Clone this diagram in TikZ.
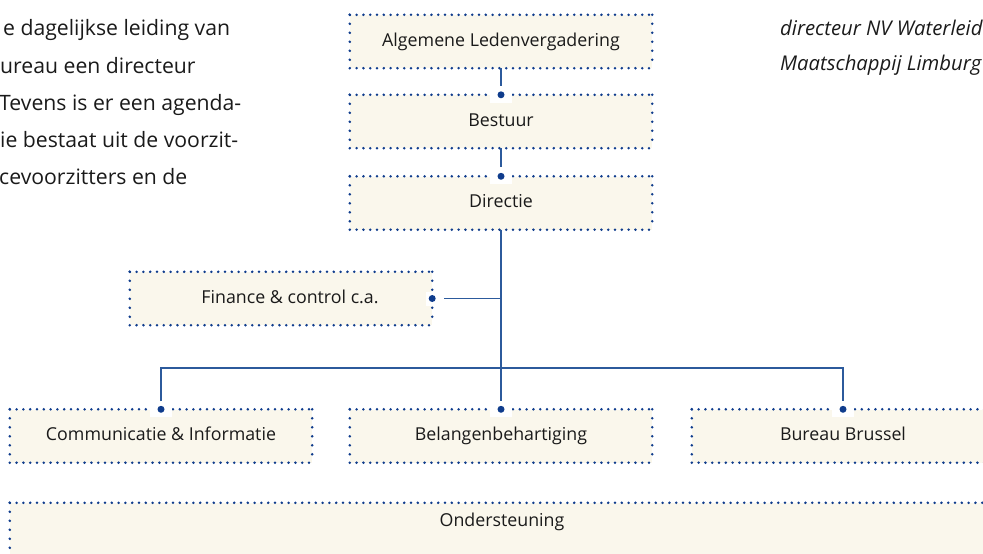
\documentclass[tikz,border=0pt]{standalone}
\usepackage{fontspec}
\setmainfont{Open Sans}
\usetikzlibrary{calc}
\definecolor{dotc}{HTML}{0F3C8C}
\definecolor{linec}{HTML}{2C5A9C}
\definecolor{boxfill}{HTML}{FAF7EC}
\definecolor{txt}{HTML}{1A1A1A}
\tikzset{
  orgbox/.style={fill=boxfill, draw=none, inner sep=0pt, minimum width=302pt, minimum height=53pt, text=txt, text height=13pt, text depth=4pt, font=\fontsize{17.8}{20}\selectfont},
  hdots/.style={draw=dotc, line width=2.8pt, line cap=round, dash pattern=on 0pt off 6.8pt},
  vdots/.style={draw=dotc, line width=2.8pt, line cap=round, dash pattern=on 0pt off 9pt},
  conn/.style={draw=linec, line width=1.5pt},
  para/.style={anchor=base west, inner sep=0pt, text=txt, font=\fontsize{21.2}{24}\selectfont},
  itpara/.style={anchor=base west, inner sep=0pt, text=txt, font=\fontsize{20.3}{24}\selectfont\itshape},
}
\newcommand{\dotborder}[1]{%
  \draw[hdots] (#1.north west) -- (#1.north east) (#1.south west) -- (#1.south east);
  \draw[vdots] (#1.north west) -- (#1.south west) (#1.north east) -- (#1.south east);}
\newcommand{\topjoint}[1]{%
  \fill[white] ($(#1.north)+(-11,-4)$) rectangle ($(#1.north)+(11,8)$);
  \fill[dotc] (#1.north) circle (3.5pt);}
\begin{document}
\begin{tikzpicture}[x=1pt,y=-1pt]
\useasboundingbox (0,0) rectangle (983,554);
% text fragments
\node[para] (p1) at (3,35) {e dagelijkse leiding van};
\node[para] (p2) at (0,73) {ureau een directeur};
\node[para] (p3) at (-1,110) {Tevens is er een agenda-};
\node[para] (p4) at (0,147) {ie bestaat uit de voorzit-};
\node[para] (p5) at (-1,184) {cevoorzitters en de};
\node[itpara] (r1) at (780,35) {directeur NV Waterleid};
\node[itpara] (r2) at (780,70) {Maatschappij Limburg};
% boxes
\node[orgbox] (alv) at (501,41.5) {Algemene Ledenvergadering};
\node[orgbox] (bes) at (501,121.5) {Bestuur};
\node[orgbox] (dir) at (501,203) {Directie};
\node[orgbox] (fin) at (281,298.5) {\hspace*{18pt}Finance \& control c.a.};
\node[orgbox] (com) at (161,436) {Communicatie \& Informatie};
\node[orgbox] (bel) at (501,436) {Belangenbehartiging};
\node[orgbox] (bur) at (843,436) {Bureau Brussel};
\node[orgbox, minimum width=984pt, minimum height=54pt] (ond) at (502,530) {};
\node[text=txt, font=\fontsize{17.8}{20}\selectfont, inner sep=0pt] (ondt) at (502,522) {Ondersteuning};
\foreach \n in {alv,bes,dir,fin,com,bel,bur,ond} {\dotborder{\n}}
% connectors
\coordinate (bar) at (dir.south |- 0,368);
\coordinate (fj) at (dir.south |- fin.east);
\draw[conn, shorten >=9pt] (alv.south) -- (bes.north);
\draw[conn, shorten >=9pt] (bes.south) -- (dir.north);
\draw[conn] (dir.south) -- (bar);
\draw[conn, shorten >=12pt] (fj) -- (fin.east);
\draw[conn, shorten <=8pt, shorten >=8pt] (com.north) -- (com.north |- bar) -- (bur.north |- bar) -- (bur.north);
\draw[conn, shorten >=8pt] (bar) -- (bel.north);
\foreach \n in {bes,dir,com,bel,bur} {\topjoint{\n}}
\fill[white] ($(fin.east)+(-6,-7)$) rectangle ($(fin.east)+(7,7)$);
\fill[dotc] (fin.east) circle (3.5pt);
\end{tikzpicture}
\end{document}
